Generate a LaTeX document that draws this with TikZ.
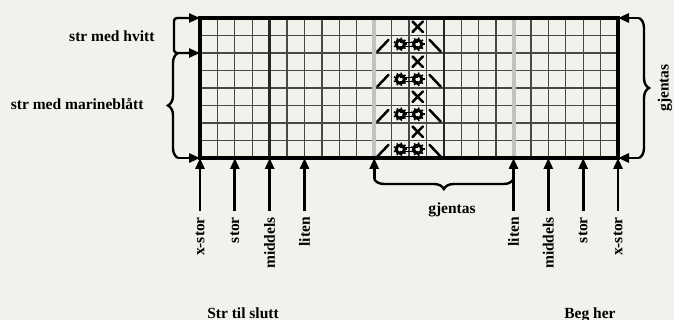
\documentclass[tikz,border=0pt]{standalone}
\usepackage{fontspec}
\setmainfont{Liberation Serif}
\usetikzlibrary{positioning, arrows.meta, decorations.pathreplacing}
\definecolor{kbg}{HTML}{F3F1EC}
\definecolor{kgrid}{HTML}{484848}
\definecolor{krep}{HTML}{C2C2C2}

\begin{document}
\begin{tikzpicture}[x=1pt, y=-1pt,
    font=\fontsize{15.5}{18}\selectfont\bfseries,
    arr/.style={line width=2.8pt, -{Triangle[length=11pt,width=9pt]}},
    brc/.style={line width=2.4pt, decorate, decoration={brace, amplitude=10pt}},
    lbl/.style={rotate=90, anchor=east, inner xsep=6pt, inner ysep=1pt},
    sym/.style={line width=2.5pt, line cap=round}]
  \fill[kbg] (0,0) rectangle (674,320);
  \useasboundingbox (0,0) rectangle (674,320);
  \coordinate (nw) at (200,18);
  \coordinate (se) at (618,158);
  % chart, 24 st x 8 rows
  \begin{scope}[shift={(200,18)}, x=17.417pt, y=-17.5pt]
    \foreach \i in {1,...,23}
      \draw[kgrid, line width=1.3pt] (\i,0) -- (\i,8);
    \foreach \j in {1,...,7}
      \draw[kgrid, line width=1.3pt] (0,\j) -- (24,\j);
    \foreach \i in {4,14}
      \draw[black!85, line width=2.4pt] (\i,0) -- (\i,8);
    \foreach \i in {10,18}
      \draw[krep, line width=4pt] (\i,0) -- (\i,8);
    \foreach \r in {0,2,4,6} {
      \draw[sym] (12.2,\r+.2) -- (12.8,\r+.8);
      \draw[sym] (12.2,\r+.8) -- (12.8,\r+.2);
    }
    \foreach \r in {1,3,5,7} {
      \draw[sym] (10.18,\r+.92) -- (10.82,\r+.25);
      \draw[sym] (13.18,\r+.25) -- (13.82,\r+.92);
      \draw[line width=.9pt] ([yshift=1.8pt]11.5,\r+.5) -- ([yshift=1.8pt]12.5,\r+.5);
      \draw[line width=.9pt] ([yshift=-1.8pt]11.5,\r+.5) -- ([yshift=-1.8pt]12.5,\r+.5);
      \foreach \c in {11.5,12.5} {
        \draw[line width=3pt] (\c,\r+.5) circle[radius=4.1pt];
        \foreach \a in {0,40,...,320}
          \draw[line width=1.5pt] (\c,\r+.5) ++(\a:5pt) -- ++(\a:1.8pt);
      }
    }
    \draw[line width=4.5pt] (0,0) rectangle (24,8);
  \end{scope}
  % left side
  \node[anchor=base east] (hv) at (158,41.5) {str med hvitt};
  \node[anchor=base east] (mb) at (147,110) {str med marineblått};
  \coordinate (w2) at (200,53);
  \draw[line width=2.4pt, rounded corners=3pt,
        {Triangle[length=11pt,width=9pt]}-{Triangle[length=11pt,width=9pt]}]
    (nw) -| (174,35) |- (w2);
  \coordinate (mbb) at (178,158);
  \coordinate (mbt) at (178,53);
  \draw[brc] (mbb) -- (mbt);
  \draw[arr] (mbb) -- (nw |- se);
  % right side
  \coordinate (rt) at (639,18);
  \coordinate (rb) at (639,158);
  \draw[brc] (rt) -- (rb);
  \draw[arr] (rt) -- (se |- nw);
  \draw[arr] (rb) -- (se);
  \node[rotate=90] (gjr) at (665,88) {gjentas};
  % sizes
  \foreach \c/\t/\n in {0/x-stor/xsl, 2/stor/stl, 4/middels/mil, 6/liten/lil,
      18/liten/lir, 20/middels/mir, 22/stor/str, 24/x-stor/xsr} {
    \node[lbl] (\n) at ({200+\c*17.417},211) {\t};
    \draw[arr] (\n.east) -- (\n.east |- se);
  }
  % repeat
  \coordinate (gl) at (374.2,179);
  \coordinate (gr) at (513.5,179);
  \draw[brc] (gr) -- (gl);
  \draw[arr] (gl) -- (gl |- se);
  \node (gjb) at (452,210) {gjentas};
  \node[anchor=base] (slutt) at (243,318) {Str til slutt};
  \node[anchor=base] (beg) at (590,318) {Beg her};
\end{tikzpicture}
\end{document}
